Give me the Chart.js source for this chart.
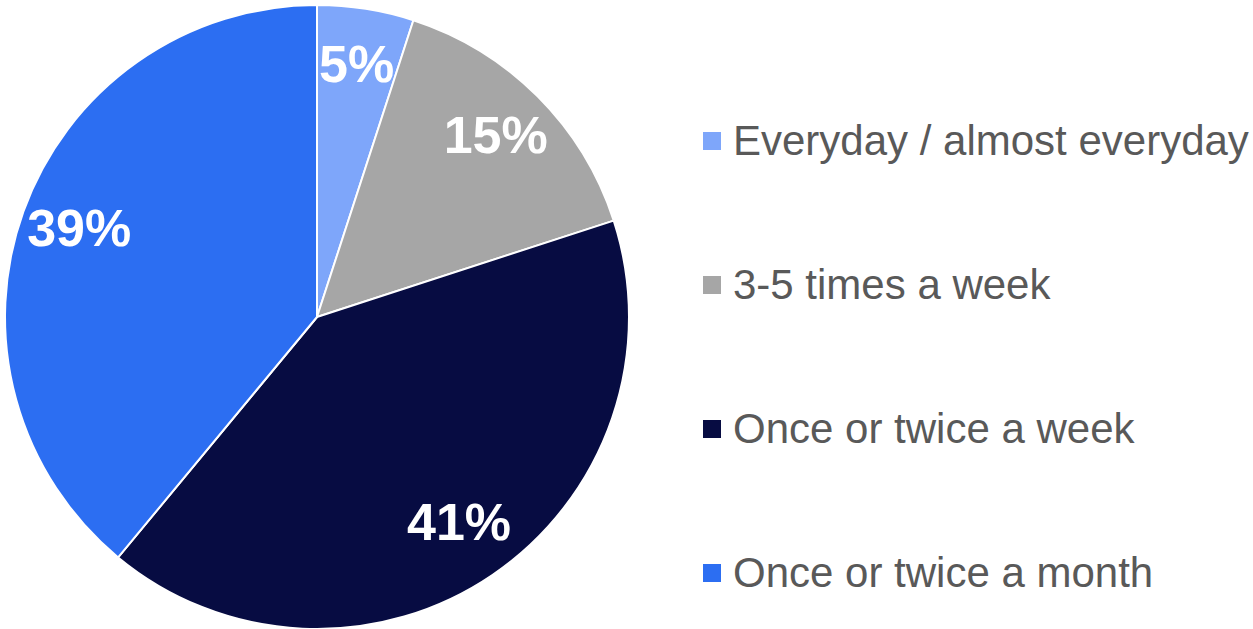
<!DOCTYPE html>
<html>
<head>
<meta charset="utf-8">
<script src="https://cdn.jsdelivr.net/npm/chart.js@4"></script>
<style>
  html, body { margin: 0; padding: 0; background: #fff; overflow: hidden; }
  body { width: 1253px; height: 629px; position: relative; font-family: "Liberation Sans", Arial, sans-serif; }
  #wrap { position: absolute; left: 0; top: 0; width: 634px; height: 634px; }
  #legend { position: absolute; left: 703px; top: 69px; list-style: none; margin: 0; padding: 0; }
  #legend li { height: 144px; display: flex; align-items: center; white-space: nowrap; font-size: 42px; color: #595959; }
  #legend .box { width: 18px; height: 18px; margin-right: 12px; flex: none; }
</style>
</head>
<body>
<div id="wrap"><canvas id="pie"></canvas></div>
<ul id="legend"></ul>
<script>
const categories = ["Everyday / almost everyday", "3-5 times a week", "Once or twice a week", "Once or twice a month"];
const shares = [5, 15, 41, 39];
const sliceColors = ["#7ea6fa", "#a6a6a6", "#070c42", "#2c6ef2"];

// percentage labels inside the slices
const sliceLabels = {
  id: "sliceLabels",
  afterDatasetsDraw(chart) {
    const ctx = chart.ctx;
    const meta = chart.getDatasetMeta(0);
    ctx.save();
    ctx.fillStyle = "#fff";
    ctx.font = "bold 52px 'Liberation Sans', Arial, sans-serif";
    ctx.textAlign = "center";
    ctx.textBaseline = "middle";
    meta.data.forEach((arc, i) => {
      const p = arc.getProps(["x", "y", "startAngle", "endAngle", "outerRadius"], true);
      const mid = (p.startAngle + p.endAngle) / 2;
      const r = p.outerRadius * 0.81;
      ctx.fillText(shares[i] + "%", p.x + Math.cos(mid) * r, p.y + Math.sin(mid) * r);
    });
    ctx.restore();
  }
};

new Chart(document.getElementById("pie"), {
  type: "pie",
  data: {
    labels: categories,
    datasets: [{
      data: shares,
      backgroundColor: sliceColors,
      borderColor: "#fff",
      borderWidth: 2
    }]
  },
  options: {
    responsive: true,
    maintainAspectRatio: false,
    animation: false,
    layout: { padding: 4 },
    plugins: { legend: { display: false }, tooltip: { enabled: false } }
  },
  plugins: [sliceLabels]
});

const legend = document.getElementById("legend");
categories.forEach((name, i) => {
  const li = document.createElement("li");
  li.innerHTML = `<span class="box" style="background:${sliceColors[i]}"></span>${name}`;
  legend.appendChild(li);
});
</script>
</body>
</html>
